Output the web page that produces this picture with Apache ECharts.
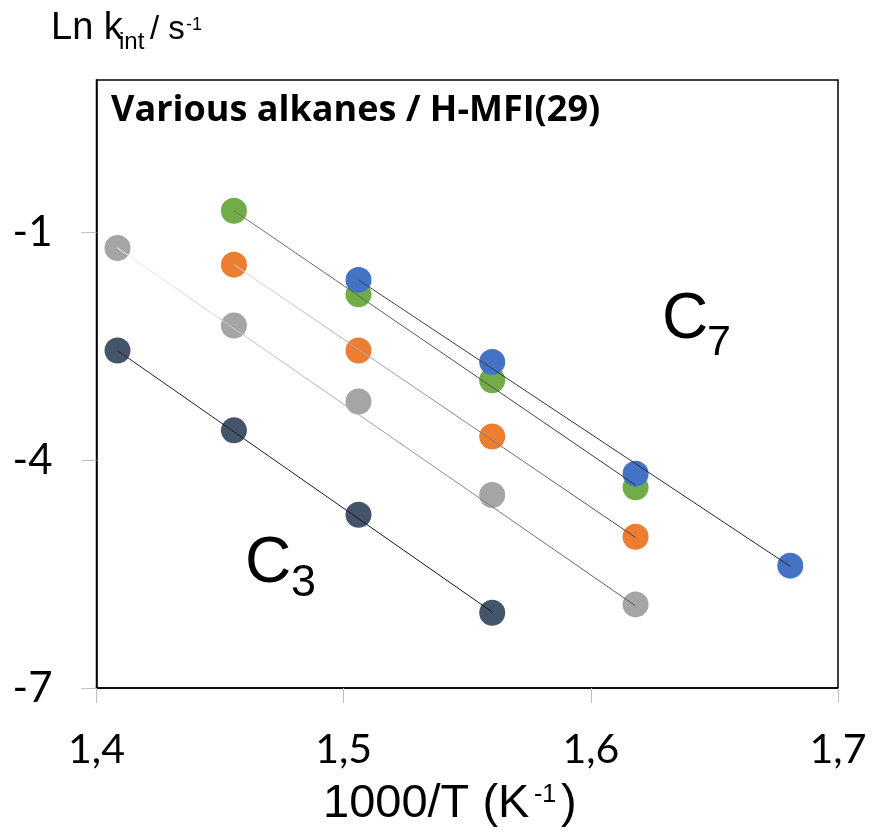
<!DOCTYPE html>
<html><head><meta charset="utf-8">
<script src="https://cdn.jsdelivr.net/npm/echarts@6/dist/echarts.min.js"></script>
<style>html,body{margin:0;padding:0;background:#fff}#c{width:872px;height:839px}</style>
</head><body><div id="c"></div>
<script>
// 1000/T values (K^-1)
const xC3 = [1.4085, 1.4556, 1.506, 1.5601];
const xGray = [1.4085, 1.4556, 1.506, 1.5601, 1.6181];
const xOrange = [1.4556, 1.506, 1.5601, 1.6181];
const xGreen = [1.4556, 1.506, 1.5601, 1.6181];
const xBlue = [1.506, 1.5601, 1.6181, 1.6807];
// Ln k_int values
const yC3 = [-2.56, -3.61, -4.72, -6.01];
const yGray = [-1.21, -2.23, -3.23, -4.46, -5.90];
const yOrange = [-1.43, -2.56, -3.69, -5.01];
const yGreen = [-0.72, -1.82, -2.95, -4.36];
const yBlue = [-1.63, -2.71, -4.18, -5.39];
// trend line endpoints: [x1, y1, x2, y2]
const trendC3 = [1.4085, -2.56, 1.5601, -6.00];
const trendGray = [1.4085, -1.21, 1.6181, -5.92];
const trendOrange = [1.4556, -1.43, 1.6181, -5.02];
const trendGreen = [1.4556, -0.72, 1.6181, -4.33];
const trendBlue = [1.506, -1.63, 1.6807, -5.40];
const xTicks = [1.4, 1.5, 1.6, 1.7];
const yTicks = [-7, -4, -1];

const pts = (xs, ys) => xs.map((x, i) => [x, ys[i]]);
const tr = t => [[t[0], t[1]], [t[2], t[3]]];
const grad = (a, b) => new echarts.graphic.LinearGradient(0, 0, 1, 0, [{offset: 0, color: a}, {offset: 1, color: b}]);

const scatter = (name, xs, ys, color) => ({
  name, type: 'scatter', data: pts(xs, ys), symbolSize: 26, z: 2,
  itemStyle: {color, opacity: 1}
});
const line = (t, a, b) => ({
  type: 'line', data: tr(t), symbol: 'none', z: 5, silent: true,
  lineStyle: {width: 1, color: grad(a, b)}
});
const txt = (text, x, y, font) => ({type: 'text', z: 10, style: {text, x, y, font, fill: '#000', verticalAlign: 'middle', align: 'left'}});

const chart = echarts.init(document.getElementById('c'), null, {renderer: 'canvas'});
chart.setOption({
  animation: false,
  backgroundColor: '#fff',
  grid: {left: 96.5, right: 34, top: 80, bottom: 151, show: true, borderColor: '#000', borderWidth: 1.5, containLabel: false},
  xAxis: {
    type: 'value', min: 1.4, max: 1.7, interval: 0.1,
    axisLine: {show: true, onZero: false, lineStyle: {color: '#000', width: 1.5}},
    axisTick: {show: true, length: 15, customValues: xTicks, lineStyle: {color: '#bfbfbf'}},
    splitLine: {show: false},
    axisLabel: {margin: 41, color: '#000', fontSize: 41, fontFamily: 'Lato', customValues: xTicks,
      formatter: v => v.toFixed(1).replace('.', ',')}
  },
  yAxis: {
    type: 'value', min: -7, max: 1, interval: 3,
    axisLine: {show: true, onZero: false, lineStyle: {color: '#000', width: 1.5}},
    axisTick: {show: true, length: 15, customValues: yTicks, lineStyle: {color: '#bfbfbf'}},
    splitLine: {show: false},
    axisLabel: {margin: 44, color: '#000', fontSize: 42, fontFamily: 'Lato', customValues: yTicks,
      formatter: v => String(v)}
  },
  series: [
    scatter('C3', xC3, yC3, '#44546a'),
    scatter('gray', xGray, yGray, '#a5a5a5'),
    scatter('orange', xOrange, yOrange, '#ed7d31'),
    scatter('green', xGreen, yGreen, '#70ad47'),
    scatter('blue', xBlue, yBlue, '#4472c4'),
    line(trendC3, '#222', '#111'),
    line(trendGray, '#eeeeee', '#555'),
    line(trendOrange, '#dddddd', '#444'),
    line(trendGreen, '#777', '#333'),
    line(trendBlue, '#444', '#222')
  ],
  graphic: [
    txt('Ln k', 51, 29, '38px "Liberation Sans"'),
    txt('int', 119, 42, '24px "Liberation Sans"'),
    txt('/ s', 150, 30, '33px "Liberation Sans"'),
    txt('-1', 186, 25, '18px "Liberation Sans"'),
    txt('Various alkanes / H-MFI(29)', 111, 111, 'bold 36px "Open Sans"'),
    txt('C', 662, 320, '64px "Liberation Sans"'),
    txt('7', 707, 343, '43px "Liberation Sans"'),
    txt('C', 245, 564, '64px "Liberation Sans"'),
    txt('3', 291, 584, '45px "Liberation Sans"'),
    txt('1000/T (K', 323, 804, '47px "Liberation Sans"'),
    txt('-1', 534, 795, '25px "Liberation Sans"'),
    txt(')', 561, 804, '47px "Liberation Sans"')
  ]
});
</script></body></html>
